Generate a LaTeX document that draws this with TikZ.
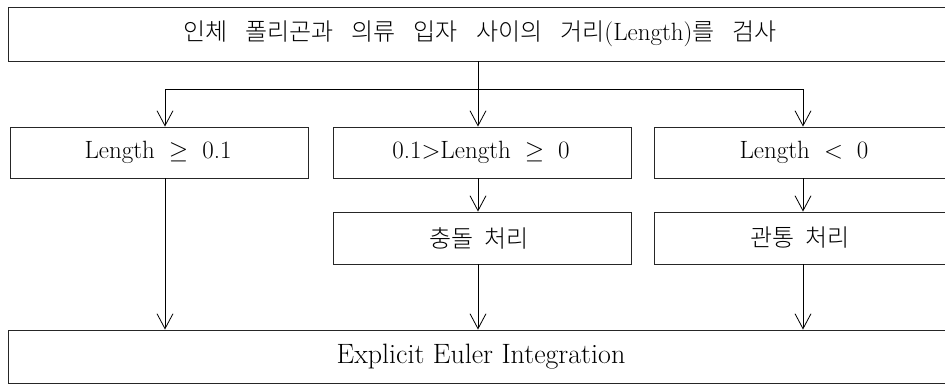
\documentclass[tikz,border=0pt]{standalone}
\usepackage{fontspec}
\IfFontExistsTF{Noto Sans CJK KR Light}
  {\newfontfamily\kr{Noto Sans CJK KR Light}}
  {\newfontfamily\kr{Noto Sans CJK KR}}
\usetikzlibrary{arrows.meta}
\newcommand{\gapsp}{\hspace{14pt}}
\newcommand{\ksp}{\hspace{18pt}}
\newcommand{\kssp}{\hspace{11pt}}
\tikzset{
  box/.style={draw=black!85, line width=0.9pt, rectangle, inner sep=0pt, anchor=center},
  arr/.style={draw=black, line width=0.8pt, -{Straight Barb[length=15pt,width=16pt,line width=0.8pt]}},
  conn/.style={draw=black, line width=0.8pt},
  lab/.style={font=\fontsize{25}{30}\selectfont},
  biglab/.style={font=\fontsize{28}{32}\selectfont},
  krlab/.style={font=\fontsize{24}{28}\selectfont\kr}
}
\begin{document}
\begin{tikzpicture}[x=1pt,y=1pt]
\clip (0,0) rectangle (945,384);
\fill[white] (0,0) rectangle (945,384);
% boxes (y = 384 - pixel y)
\node[box, minimum width=942pt, minimum height=54pt] (top) at (479,350) {};
\node[krlab] (toptext) at (480,350) {인체\ksp 폴리곤과\ksp 의류\ksp 입자\ksp 사이의\ksp 거리{\rmfamily\fontsize{25}{30}\selectfont(Length)}를\ksp 검사};
\node[box, minimum width=298pt, minimum height=51pt] (b1) at (159,231.5) {};
\node[lab] (b1t) at (158,231.5) {Length\gapsp$\geq$\gapsp0.1};
\node[box, minimum width=298pt, minimum height=51pt] (b2) at (482,231.5) {};
\node[lab] (b2t) at (481,231.5) {0.1$>$Length\gapsp$\geq$\gapsp0};
\node[box, minimum width=296pt, minimum height=51pt] (b3) at (802,231.5) {};
\node[lab] (b3t) at (804,231.5) {Length\gapsp$<$\gapsp0};
\node[box, minimum width=298pt, minimum height=52pt] (c2) at (482,146) {};
\node[krlab] (c2t) at (479,146) {충돌\kssp 처리};
\node[box, minimum width=296pt, minimum height=52pt] (c3) at (802,146) {};
\node[krlab] (c3t) at (800,146) {관통\kssp 처리};
\node[box, minimum width=942pt, minimum height=53pt] (bot) at (479,27.5) {};
\node[biglab] (bott) at (481,27.5) {Explicit Euler Integration};
% columns
\coordinate (xa) at (165,0);
\coordinate (xb) at (478,0);
\coordinate (xc) at (803,0);
\coordinate (split) at (478,295);
% connectors
\draw[conn] (top.south -| xb) -- (split);
\draw[conn] (split -| xa) -- (split -| xc);
\draw[arr] (split) -- (b2.north -| xb);
\draw[arr] (split -| xa) -- (b1.north -| xa);
\draw[arr] (split -| xc) -- (b3.north -| xc);
\draw[arr] (b2.south -| xb) -- (c2.north -| xb);
\draw[arr] (b3.south -| xc) -- (c3.north -| xc);
\draw[arr] (b1.south -| xa) -- (bot.north -| xa);
\draw[arr] (c2.south -| xb) -- (bot.north -| xb);
\draw[arr] (c3.south -| xc) -- (bot.north -| xc);
\end{tikzpicture}
\end{document}
